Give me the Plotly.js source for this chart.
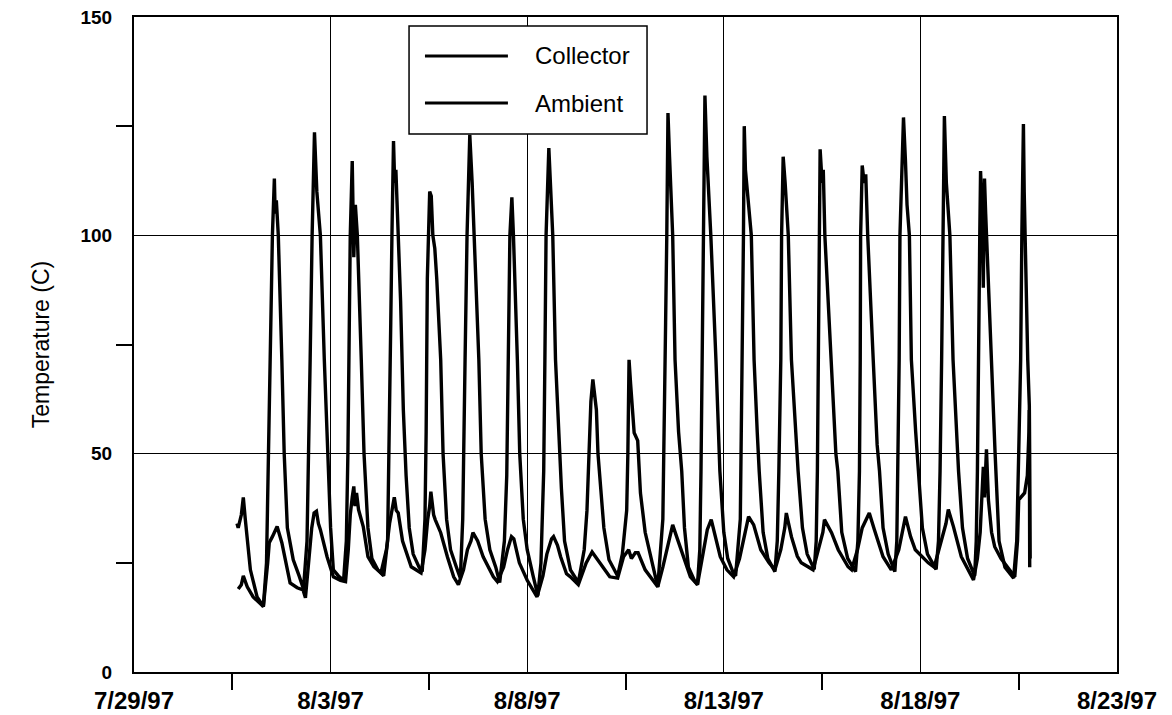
<!DOCTYPE html>
<html>
<head>
<meta charset="utf-8">
<script src="https://cdn.plot.ly/plotly-3.0.1.min.js"></script>
<style>html,body{margin:0;padding:0;background:#fff;}#chart{width:1172px;height:715px;}</style>
</head>
<body>
<div id="chart"></div>
<script>
// x values: days elapsed since 7/29/97 00:00
const tickDays = [0, 5, 10, 15, 20, 25];
const tickLabels = ['7/29/97', '8/3/97', '8/8/97', '8/13/97', '8/18/97', '8/23/97'];
const minorTickDays = [2.5, 7.5, 12.5, 17.5, 22.5];
const seriesNames = ['Collector', 'Ambient'];

const collectorDay = [
 2.62,2.65,2.73,2.78,2.83,2.88,2.96,3.13,3.29,
 3.37,3.42,3.48,3.52,3.57,3.59,3.62,3.67,3.76,3.82,3.90,4.05,4.20,4.31,
 4.40,4.43,4.48,4.53,4.59,4.65,4.74,4.84,4.92,5.00,5.07,5.20,5.33,
 5.40,5.44,5.47,5.50,5.55,5.57,5.59,5.63,5.68,5.78,5.85,5.95,6.05,6.20,6.35,
 6.45,6.49,6.53,6.56,6.60,6.63,6.66,6.72,6.78,6.85,6.92,7.00,7.10,7.25,7.33,
 7.40,7.43,7.46,7.49,7.52,7.56,7.60,7.65,7.70,7.80,7.86,7.95,8.05,8.20,8.30,
 8.36,8.38,8.42,8.47,8.54,8.60,8.65,8.77,8.83,8.93,9.05,9.20,9.30,
 9.42,9.48,9.52,9.56,9.61,9.65,9.75,9.81,9.90,10.00,10.15,10.27,
 10.35,10.42,10.45,10.48,10.55,10.62,10.65,10.72,10.80,10.87,10.95,11.10,11.30,
 11.45,11.52,11.57,11.62,11.67,11.72,11.76,11.80,11.87,11.95,12.08,12.30,
 12.42,12.53,12.56,12.59,12.63,12.67,12.72,12.81,12.88,13.00,13.20,13.32,
 13.45,13.48,13.52,13.55,13.58,13.62,13.70,13.76,13.85,13.93,14.00,14.10,14.25,14.33,
 14.39,14.42,14.45,14.48,14.52,14.57,14.67,14.80,14.90,15.00,15.10,15.25,15.30,
 15.42,15.45,15.47,15.50,15.52,15.55,15.70,15.77,15.85,15.90,16.00,16.12,16.30,
 16.36,16.40,16.45,16.47,16.51,16.56,16.64,16.72,16.82,16.89,17.00,17.12,17.30,
 17.35,17.38,17.41,17.43,17.45,17.50,17.53,17.57,17.73,17.85,17.90,18.00,18.15,18.35,
 18.41,18.45,18.47,18.48,18.52,18.57,18.61,18.66,18.80,18.90,18.96,19.05,19.18,19.35,
 19.40,19.43,19.46,19.48,19.57,19.62,19.66,19.72,19.77,19.88,19.95,20.05,20.18,20.40,
 20.46,20.50,20.54,20.57,20.61,20.66,20.70,20.75,20.83,20.92,20.97,21.07,21.20,21.38,
 21.42,21.45,21.48,21.51,21.53,21.57,21.60,21.63,21.66,21.68,21.81,21.90,22.00,22.15,22.37,
 22.45,22.50,22.55,22.58,22.62,22.64,22.66,22.73,22.77,22.79
];
const collectorTemp = [
 34,33,36,40,35,31,23.4,17.2,15,
 25,50,85,100,113,105,108,100,71.5,50,33,25.7,22,19,
 30,50,71.5,100,123.6,110,100,71.5,50,33,23.4,22,21,
 30,50,75,100,117,100,95,107,100,71.5,50,33,26,23.4,22,
 30,50,80,100,121.6,112,115,100,85,60,45,33,27,24,23,
 35,55,90,105,110,109,100,97,90,71.5,50,35,28,24,21.5,
 35,50,71.5,100,123,112,100,71.5,50,35,28,24,20.5,
 30,45,71.5,100,108.7,100,71.5,50,35,28,22,17.5,
 25,46,71.5,100,120,108,100,71.5,55,42,30,23.4,20.5,
 28,37,50,62,67,62,60,50,41,33,25.7,22,
 27,37,50,71.5,66,60,54.8,53,41,32,24,19.5,
 35,60,80,100,128,118,100,71.5,55,46,33,24,21,20,
 28,46,71.5,100,132,118,100,71.5,46,32,26,22.5,22,
 35,55,71.5,100,125,115,100,71.5,55,46,32,26,23,
 30,46,71.5,100,118,112,100,71.5,55,46,33,27,23.5,
 30,46,71.5,100,119.7,112,115,100,71.5,50,46,32,26,23,
 30,46,71.5,100,116,112,114,100,71.5,52,46,33,27,23,
 30,46,71.5,100,127,117,107,100,71.5,55,46,33,27,23.5,
 30,46,71.5,100,127.3,112,107,100,71.5,55,46,33,26,22,
 30,46,85,100,114.7,105,88,113,105,100,71.5,50,30,24,21.5,
 30,50,71.5,100,125.5,110,100,71.5,61,26
];

const ambientDay = [
 2.65,2.73,2.78,2.88,3.03,3.16,3.29,
 3.40,3.44,3.52,3.64,3.76,3.89,3.97,4.15,4.30,4.36,
 4.45,4.52,4.58,4.64,4.69,4.74,4.91,5.07,5.25,5.38,
 5.45,5.50,5.55,5.59,5.62,5.66,5.71,5.83,5.95,6.10,6.28,
 6.42,6.50,6.58,6.62,6.67,6.72,6.83,6.88,7.05,7.30,
 7.40,7.47,7.52,7.55,7.62,7.66,7.80,7.97,8.13,8.25,
 8.38,8.48,8.57,8.62,8.74,8.88,9.14,9.24,
 9.40,9.50,9.60,9.66,9.80,10.00,10.25,
 10.40,10.50,10.62,10.67,10.77,10.85,11.00,11.10,11.30,
 11.50,11.65,11.80,11.95,12.10,12.30,
 12.45,12.58,12.65,12.75,12.82,13.00,13.32,
 13.45,13.55,13.60,13.70,13.80,13.95,14.00,14.15,14.33,
 14.50,14.58,14.68,14.78,14.91,15.08,15.25,
 15.40,15.52,15.63,15.76,15.94,16.15,16.30,
 16.45,16.55,16.59,16.72,16.87,16.97,17.27,
 17.40,17.52,17.56,17.74,17.91,18.16,18.25,
 18.40,18.52,18.70,18.83,19.05,19.26,
 19.45,19.62,19.75,19.87,20.20,20.35,
 20.50,20.65,20.71,20.84,21.04,21.35,
 21.45,21.52,21.60,21.63,21.68,21.73,21.81,21.89,22.05,22.30,22.40,
 22.47,22.50,22.65,22.72,22.76,22.77,22.78
];
const ambientTemp = [
 19,20,22,19.5,17.2,16,15,
 25,29.6,31,33.3,29.6,23.4,20.4,19.3,18.8,17,
 25,33,36.4,36.8,34,32.6,26.4,21.8,21,20.7,
 28,36,40,42.5,38,41,37.2,33.3,26.4,24.1,22.7,
 28,34,38,40,37,36.4,30,28.7,24.1,22.7,
 28,35,38,41.3,36,34.9,31.9,26.4,21.8,20,
 23.4,28,30,31.9,30,26.4,21.8,20.7,
 24,28,31,30.5,25,21,17.2,
 22,27,30.5,31,29,26.4,22.5,21.8,20,
 25,27.5,25.5,23.5,21.8,21.5,
 26.4,28,26,27.3,27.3,23.4,19.5,
 24,28,29.6,33.7,31,27,25.7,21.8,20,
 28,32.6,34.9,31,26.4,23.4,21.8,
 26,31,35.6,33.7,28,25,23.4,
 28,33,36.4,31,26.5,25,23.4,
 28,32,34.9,31.9,28,24.1,23.4,
 28,33,36.4,32.6,26.4,23.4,
 28,35.6,31,28,25,24,
 29,34,37.2,33.3,26.4,21.1,
 26,32,47,40,51,39.4,32,28.7,26,23,21.8,
 30,39.4,41,45,55,60,24
];

const FONT = 'Liberation Sans, Arial, Helvetica, sans-serif';
const LINE = {color: '#000', width: 3.4};

const traces = [
  {x: collectorDay, y: collectorTemp, name: seriesNames[0],
   type: 'scatter', mode: 'lines', line: LINE},
  {x: ambientDay, y: ambientTemp, name: seriesNames[1],
   type: 'scatter', mode: 'lines', line: LINE}
];

// legend box drawn in paper coordinates (inside the plot, top-centre-left)
const legendBox = {x0: 0.2798, x1: 0.5219, y0: 0.8214, y1: 0.9863};
const legendRows = [0.9405, 0.8687];
const legendLineX = [0.2960, 0.3804];
const legendTextX = 0.4059;

const shapes = [
  {type: 'rect', xref: 'paper', yref: 'paper', x0: legendBox.x0, x1: legendBox.x1,
   y0: legendBox.y0, y1: legendBox.y1, line: {color: '#000', width: 1.5}, fillcolor: '#fff', layer: 'above'}
];
const annotations = [];
seriesNames.forEach((nm, i) => {
  shapes.push({type: 'line', xref: 'paper', yref: 'paper', x0: legendLineX[0], x1: legendLineX[1],
    y0: legendRows[i], y1: legendRows[i], line: {color: '#000', width: 3}, layer: 'above'});
  annotations.push({xref: 'paper', yref: 'paper', x: legendTextX, y: legendRows[i],
    xanchor: 'left', yanchor: 'middle', showarrow: false, text: nm,
    font: {family: FONT, size: 24, color: '#000'}});
});

const layout = {
  width: 1172, height: 715,
  margin: {l: 134, r: 55, t: 17, b: 43},
  paper_bgcolor: '#fff', plot_bgcolor: '#fff',
  font: {family: FONT, color: '#000'},
  showlegend: false,
  shapes: shapes,
  annotations: annotations,
  xaxis: {
    range: [0, 25], tickmode: 'array', tickvals: tickDays, ticktext: tickLabels,
    ticks: '', showgrid: true, gridcolor: '#000', gridwidth: 1,
    showline: true, linecolor: '#000', linewidth: 2, mirror: true, zeroline: false,
    tickfont: {family: FONT, size: 24, color: '#000', weight: 'bold'},
    ticklabelstandoff: 6,
    minor: {tickmode: 'array', tickvals: minorTickDays, ticks: 'outside', ticklen: 16, tickwidth: 2, tickcolor: '#000', showgrid: false}
  },
  yaxis: {
    range: [0, 150], tickmode: 'array', tickvals: [0, 50, 100, 150],
    ticks: '', showgrid: true, gridcolor: '#000', gridwidth: 1,
    showline: true, linecolor: '#000', linewidth: 2, mirror: true, zeroline: false,
    tickfont: {family: FONT, size: 19, color: '#000', weight: 'bold'},
    ticklabelstandoff: 16,
    minor: {tickmode: 'array', tickvals: [25, 75, 125], ticks: 'outside', ticklen: 16, tickwidth: 2, tickcolor: '#000', showgrid: false},
    title: {text: 'Temperature (C)', font: {family: FONT, size: 23, color: '#000'}, standoff: 24}
  }
};

Plotly.newPlot('chart', traces, layout, {displayModeBar: false, staticPlot: true});
</script>
</body>
</html>
